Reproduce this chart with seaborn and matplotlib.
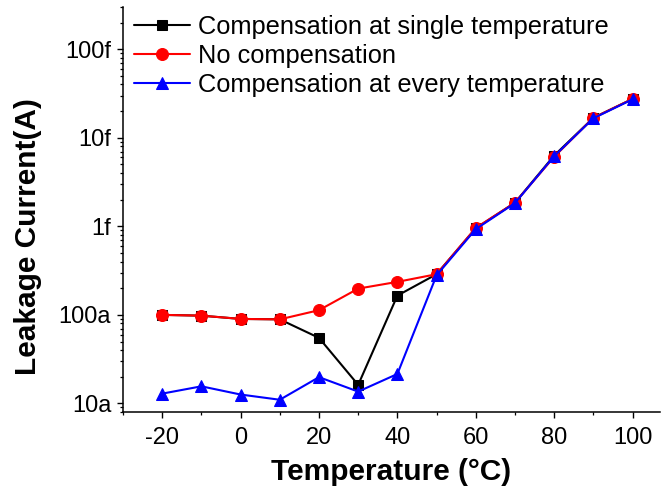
import numpy as np
import pandas as pd
import seaborn as sns
import matplotlib
matplotlib.use("Agg")
import matplotlib.pyplot as plt
from matplotlib.ticker import FixedLocator, FixedFormatter, LogLocator, MultipleLocator, NullFormatter

# ---- data ----
temperature = [-20, -10, 0, 10, 20, 30, 40, 50, 60, 70, 80, 90, 100]
single_comp = [100e-18, 98e-18, 90e-18, 89e-18, 55e-18, 16.2e-18, 165e-18, 288e-18,
               0.95e-15, 1.85e-15, 6.3e-15, 16.8e-15, 27.5e-15]
no_comp = [100e-18, 98e-18, 90e-18, 89e-18, 113e-18, 198e-18, 236e-18, 288e-18,
           0.96e-15, 1.85e-15, 6.1e-15, 16.8e-15, 27.5e-15]
every_comp = [12.9e-18, 15.6e-18, 12.6e-18, 11.0e-18, 19.8e-18, 13.6e-18, 21.5e-18, 280e-18,
              0.93e-15, 1.83e-15, 6.2e-15, 16.6e-15, 27.2e-15]
series_names = ["Compensation at single temperature", "No compensation",
                "Compensation at every temperature"]
ytick_values = [1e-17, 1e-16, 1e-15, 1e-14, 1e-13]
ytick_labels = ["10a", "100a", "1f", "10f", "100f"]

sns.set_theme(style="ticks")
plt.rcParams['font.family'] = ['Liberation Sans', 'DejaVu Sans']
plt.rcParams['axes.unicode_minus'] = False
plt.rcParams['text.color'] = 'black'
plt.rcParams['axes.labelcolor'] = 'black'
plt.rcParams['xtick.color'] = 'black'
plt.rcParams['ytick.color'] = 'black'

fig = plt.figure(figsize=(6.62, 4.94), dpi=100)
ax = fig.add_axes([123/662, 1-412/494, (660-123)/662, (412-7)/494])

styles = [("black", "s", 7.8), ("#ff0000", "o", 8.6), ("#0000ff", "^", 9.2)]
for name, vals, (col, mk, ms) in zip(series_names, [single_comp, no_comp, every_comp], styles):
    df = pd.DataFrame({"T": temperature, "I": vals})
    sns.lineplot(data=df, x="T", y="I", ax=ax, color=col, marker=mk, markersize=ms,
                 markeredgecolor=col, linewidth=1.5, label=name)

ax.set_yscale("log")
ax.set_xlim(-30, 107)
ax.set_ylim(8e-18, 3e-13)

ax.yaxis.set_major_locator(FixedLocator(ytick_values))
ax.yaxis.set_major_formatter(FixedFormatter(ytick_labels))
ax.yaxis.set_minor_locator(LogLocator(base=10, subs=np.arange(2, 10), numticks=20))
ax.yaxis.set_minor_formatter(NullFormatter())
ax.xaxis.set_major_locator(MultipleLocator(20))
ax.xaxis.set_minor_locator(MultipleLocator(10))

for s in ["top", "right"]:
    ax.spines[s].set_visible(False)
for s in ["left", "bottom"]:
    ax.spines[s].set_linewidth(1.1)
    ax.spines[s].set_color("black")

ax.tick_params(axis="both", which="major", direction="out", length=4.5, width=1.0,
               labelsize=17, color="black", labelcolor="black")
ax.tick_params(axis="both", which="minor", direction="out", length=2.5, width=0.9, color="black")
ax.tick_params(axis="x", which="major", pad=6)
ax.tick_params(axis="y", which="major", pad=4)

ax.set_xlabel("Temperature (°C)", fontsize=21.5, fontweight="bold", color="black", labelpad=7)
ax.set_ylabel("Leakage Current(A)", fontsize=21.5, fontweight="bold", color="black", va="center")
ax.yaxis.set_label_coords(-0.177, 0.432)

leg = ax.legend(loc="upper left", bbox_to_anchor=(134/662, 1-15/494),
                bbox_transform=fig.transFigure, frameon=False, fontsize=18.3,
                handlelength=2.2, handletextpad=0.3, labelspacing=0.2,
                borderpad=0, borderaxespad=0, markerscale=1.0)
for t in leg.get_texts():
    t.set_color("black")

fig.savefig("out.png", dpi=100)
